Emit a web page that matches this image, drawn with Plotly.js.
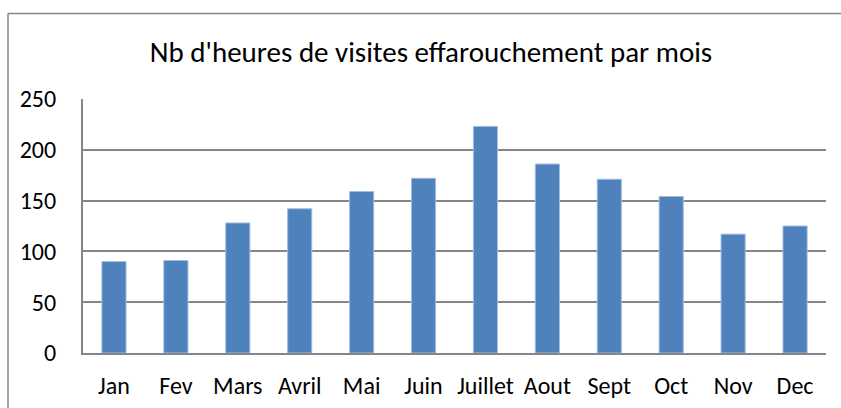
<!DOCTYPE html>
<html>
<head>
<meta charset="utf-8">
<script src="https://cdn.plot.ly/plotly-3.0.1.min.js"></script>
<style>html,body{margin:0;padding:0;background:#fff;}#chart{width:841px;height:408px;}</style>
</head>
<body>
<div id="chart"></div>
<script>
const months = ["Jan","Fev","Mars","Avril","Mai","Juin","Juillet","Aout","Sept","Oct","Nov","Dec"];
const heures = [90, 91, 128, 142, 159, 172, 223, 186, 171, 154, 117, 125];
const yTicks = [0, 50, 100, 150, 200, 250];
const chartTitle = "Nb d'heures de visites effarouchement par mois";

const FONT = "Carlito, Lato, 'Liberation Sans', sans-serif";
const L = 83, R = 826, T = 99, B = 353, W = 841, H = 408;
const px = v => (v - L) / (R - L);
const py = v => (B - v) / (B - T);

const trace = {
  type: 'bar',
  x: months,
  y: heures,
  marker: {color: '#4f81bd', line: {color: '#a3bddf', width: 1}},
  hoverinfo: 'x+y'
};

const layout = {
  width: W, height: H,
  margin: {l: L, r: W - R, t: T, b: H - B, pad: 0},
  paper_bgcolor: '#fff', plot_bgcolor: '#fff',
  bargap: 0.61,
  showlegend: false,
  font: {family: FONT, size: 24, color: '#000'},
  title: {
    text: chartTitle,
    font: {family: FONT, size: 29, color: '#000'},
    xref: 'paper', x: px(431), xanchor: 'center',
    yref: 'container', y: 1 - 52 / H, yanchor: 'middle'
  },
  xaxis: {
    type: 'category',
    showgrid: false,
    showline: true, linecolor: '#868686', linewidth: 2,
    ticks: '', ticklabelstandoff: 10,
    tickfont: {family: FONT, size: 24, color: '#000'},
    zeroline: false
  },
  yaxis: {
    range: [0, 250],
    tickvals: yTicks,
    ticktext: yTicks.map(String),
    showgrid: true, gridcolor: '#868686', gridwidth: 2,
    showline: true, linecolor: '#868686', linewidth: 2,
    ticks: '', ticklabelstandoff: 20,
    tickfont: {family: FONT, size: 24, color: '#000'},
    zeroline: false
  },
  shapes: [
    {type: 'line', xref: 'paper', yref: 'paper',
     x0: px(8), x1: px(8), y0: py(420), y1: py(13.5),
     line: {color: '#868686', width: 1.5}, layer: 'below'},
    {type: 'line', xref: 'paper', yref: 'paper',
     x0: px(8), x1: px(900), y0: py(13.5), y1: py(13.5),
     line: {color: '#868686', width: 1.5}, layer: 'below'}
  ]
};

Plotly.newPlot('chart', [trace], layout, {displayModeBar: false, staticPlot: true});
</script>
</body>
</html>
